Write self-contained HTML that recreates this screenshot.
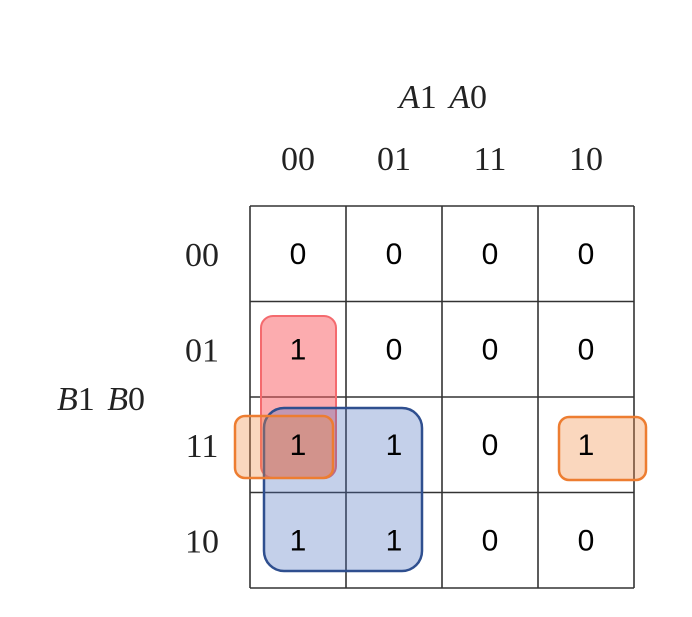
<!DOCTYPE html>
<html><head><meta charset="utf-8"><style>
html,body{margin:0;padding:0;background:#fff;}
svg{display:block;}
.s{font-family:"Liberation Serif",serif;font-size:34px;fill:#222;}
.v{font-family:"Liberation Sans",sans-serif;font-size:30px;fill:#000;}
</style></head><body>
<svg id="km" width="692" height="617" viewBox="0 0 692 617">
<text class="s" x="443" y="108" text-anchor="middle" word-spacing="4"><tspan font-style="italic">A</tspan>1 <tspan font-style="italic">A</tspan>0</text>
<text class="s" x="101" y="410" text-anchor="middle" word-spacing="4"><tspan font-style="italic">B</tspan>1 <tspan font-style="italic">B</tspan>0</text>
<g id="grid"></g>
<g id="groups">
<rect x="261" y="316" width="75" height="162" rx="12" fill="rgba(250,90,95,0.5)" stroke="#f46a6e" stroke-width="2"/>
<rect x="264" y="408" width="158" height="163" rx="20" fill="rgba(70,110,190,0.32)" stroke="#2f4f8f" stroke-width="2.5"/>
<rect x="235" y="416" width="98" height="62" rx="10" fill="rgba(240,140,70,0.35)" stroke="#ed7d31" stroke-width="2.5"/>
<rect x="559" y="417" width="87" height="63" rx="10" fill="rgba(240,140,70,0.35)" stroke="#ed7d31" stroke-width="2.5"/>
</g>
<g id="cells"></g>
</svg>
<script>
const colLabels=["00","01","11","10"];
const rowLabels=["00","01","11","10"];
const values=[[0,0,0,0],[1,0,0,0],[1,1,0,1],[1,1,0,0]];
const NS="http://www.w3.org/2000/svg";
const x0=250,y0=206,cw=96,ch=95.5;
const colX=i=>x0+cw*i;const rowY=j=>y0+ch*j;
const grid=document.getElementById('grid'),cells=document.getElementById('cells'),svg=document.getElementById('km');
for(let i=0;i<=4;i++){
 let l=document.createElementNS(NS,'line');
 l.setAttribute('x1',colX(i));l.setAttribute('x2',colX(i));l.setAttribute('y1',y0);l.setAttribute('y2',rowY(4));
 l.setAttribute('stroke','#333');l.setAttribute('stroke-width','1.6');
 
 
 grid.appendChild(l);
 let h=document.createElementNS(NS,'line');
 h.setAttribute('y1',rowY(i));h.setAttribute('y2',rowY(i));h.setAttribute('x1',x0);h.setAttribute('x2',colX(4));
 h.setAttribute('stroke','#333');h.setAttribute('stroke-width','1.6');
 
 
 grid.appendChild(h);
}
colLabels.forEach((c,i)=>{
 let t=document.createElementNS(NS,'text');t.setAttribute('class','s');
 t.setAttribute('x',colX(i)+cw/2);t.setAttribute('y',170);t.setAttribute('text-anchor','middle');t.textContent=c;
 
 
 svg.appendChild(t);
});
rowLabels.forEach((r,j)=>{
 let t=document.createElementNS(NS,'text');t.setAttribute('class','s');
 t.setAttribute('x',202);t.setAttribute('y',rowY(j)+ch/2+12);t.setAttribute('text-anchor','middle');t.textContent=r;
 
 
 svg.appendChild(t);
});
values.forEach((row,j)=>row.forEach((v,i)=>{
 let t=document.createElementNS(NS,'text');t.setAttribute('class','v');
 t.setAttribute('x',colX(i)+cw/2);t.setAttribute('y',rowY(j)+ch/2+10);t.setAttribute('text-anchor','middle');t.textContent=v;
 
 
 cells.appendChild(t);
}));
</script>
</body></html>
